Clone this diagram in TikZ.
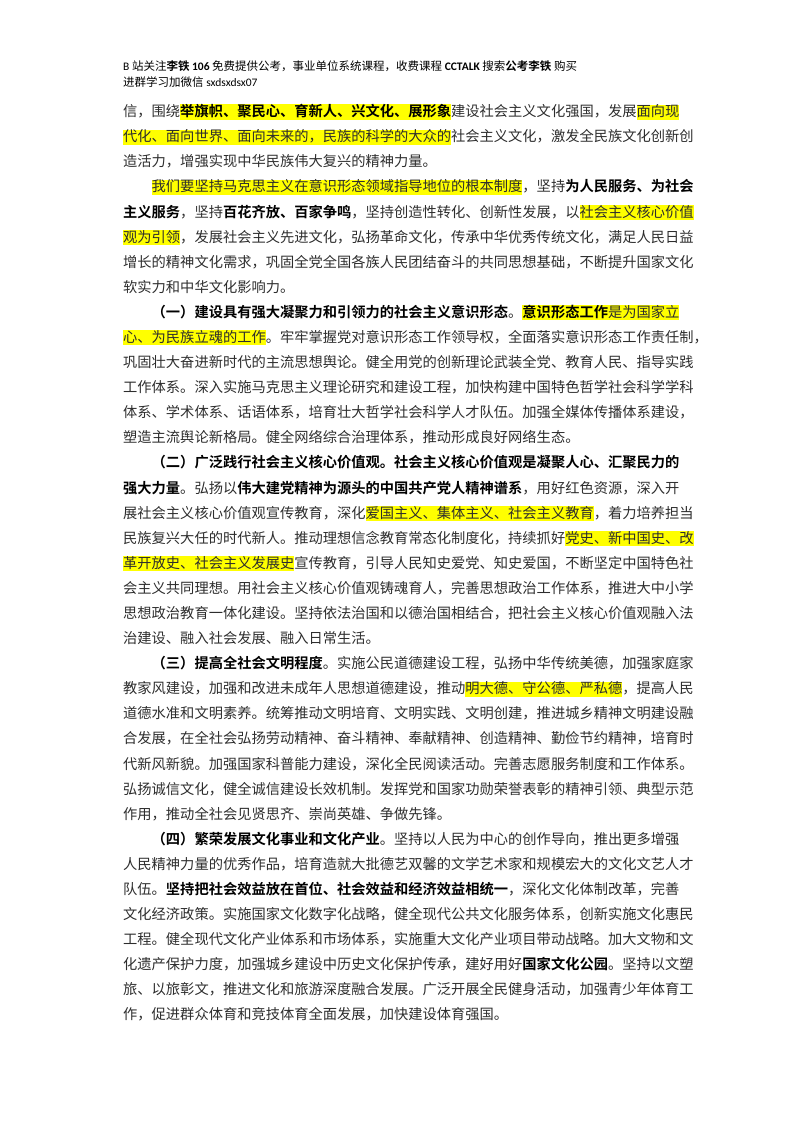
\documentclass[tikz,border=0pt]{standalone}
\usepackage{fontspec}
\setmainfont{Noto Sans CJK SC}[BoldFont={Noto Sans CJK SC Bold}]
\newfontfamily\carl{Carlito}
\definecolor{hly}{RGB}{255,255,0}
\definecolor{txt}{RGB}{45,45,45}
\XeTeXinterchartokenstate=1
\newcommand\ig{\hskip 0pt plus 0.3em minus 0.1em\relax}
\XeTeXinterchartoks 0 1 = {\ig}
\XeTeXinterchartoks 1 0 = {\ig}
\XeTeXinterchartoks 1 1 = {\ig}
\XeTeXinterchartoks 1 2 = {\ig}
\XeTeXinterchartoks 1 3 = {\ig}
\XeTeXinterchartoks 2 1 = {\ig}
\XeTeXinterchartoks 3 1 = {\ig}
\XeTeXinterchartoks 3 2 = {\ig}
\XeTeXinterchartoks 3 3 = {\ig}
\XeTeXinterchartoks 2 2 = {\ig}
\XeTeXinterchartoks 0 3 = {\ig}
\XeTeXinterchartoks 3 0 = {\ig}
\newcommand\HL[1]{{\setlength\fboxsep{0pt}\colorbox{hly}{\rule[-0.2em]{0pt}{1.05em}#1}}}
\newcommand\HB[1]{\HL{\bfseries\color{black}#1}}
\newcommand\B[1]{{\bfseries\color{black}#1}}
\newcommand\IN{\hskip 2em\relax}
\tikzset{ln/.style={anchor=base west,inner sep=0pt,text=txt,font=\fontsize{14.26}{16}\selectfont},
hd/.style={anchor=base west,inner sep=0pt,text=black,font=\fontsize{11.5}{13}\selectfont}}
\newcommand\Ln[2]{\node[ln] (l#1) at (123,{116.7+25.09*#1}) {\hbox to 556pt{#2}};}
\newcommand\Ll[2]{\node[ln] (l#1) at (123,{116.7+25.09*#1}) {#2};}
\begin{document}
\begin{tikzpicture}[x=1pt,y=-1pt]
\useasboundingbox (0,0) rectangle (800,1132);
\node[hd] (h1) at (123,70.5) {{\carl B} 站关注\B{李铁 {\carl 106}} 免费提供公考，事业单位系统课程，收费课程 {\carl\bfseries CCTALK} 搜索\B{公考李铁} 购买};
\node[hd] (h2) at (123,86) {进群学习加微信 {\carl sxdsxdsx07}};
\Ln{0}{信，围绕\HB{举旗帜、聚民心、育新人、兴文化、展形象}建设社会主义文化强国，发展\HL{面向现}}
\Ln{1}{\HL{代化、面向世界、面向未来的，民族的科学的大众的}社会主义文化，激发全民族文化创新创}
\Ll{2}{造活力，增强实现中华民族伟大复兴的精神力量。}
\Ln{3}{\IN\HL{我们要坚持马克思主义在意识形态领域指导地位的根本制度}，坚持\B{为人民服务、为社会}}
\Ln{4}{\B{主义服务}，坚持\B{百花齐放、百家争鸣}，坚持创造性转化、创新性发展，以\HL{社会主义核心价值}}
\Ln{5}{\HL{观为引领}，发展社会主义先进文化，弘扬革命文化，传承中华优秀传统文化，满足人民日益}
\Ln{6}{增长的精神文化需求，巩固全党全国各族人民团结奋斗的共同思想基础，不断提升国家文化}
\Ll{7}{软实力和中华文化影响力。}
\Ln{8}{\IN\B{（一）建设具有强大凝聚力和引领力的社会主义意识形态}。\HB{意识形态工作}\HL{是为国家立}}
\Ln{9}{\HL{心、为民族立魂的工作}。牢牢掌握党对意识形态工作领导权，全面落实意识形态工作责任制，}
\Ln{10}{巩固壮大奋进新时代的主流思想舆论。健全用党的创新理论武装全党、教育人民、指导实践}
\Ln{11}{工作体系。深入实施马克思主义理论研究和建设工程，加快构建中国特色哲学社会科学学科}
\Ln{12}{体系、学术体系、话语体系，培育壮大哲学社会科学人才队伍。加强全媒体传播体系建设，}
\Ll{13}{塑造主流舆论新格局。健全网络综合治理体系，推动形成良好网络生态。}
\Ln{14}{\IN\B{（二）广泛践行社会主义核心价值观。社会主义核心价值观是凝聚人心、汇聚民力的}}
\Ln{15}{\B{强大力量}。弘扬以\B{伟大建党精神为源头的中国共产党人精神谱系}，用好红色资源，深入开}
\Ln{16}{展社会主义核心价值观宣传教育，深化\HL{爱国主义、集体主义、社会主义教育}，着力培养担当}
\Ln{17}{民族复兴大任的时代新人。推动理想信念教育常态化制度化，持续抓好\HL{党史、新中国史、改}}
\Ln{18}{\HL{革开放史、社会主义发展史}宣传教育，引导人民知史爱党、知史爱国，不断坚定中国特色社}
\Ln{19}{会主义共同理想。用社会主义核心价值观铸魂育人，完善思想政治工作体系，推进大中小学}
\Ln{20}{思想政治教育一体化建设。坚持依法治国和以德治国相结合，把社会主义核心价值观融入法}
\Ll{21}{治建设、融入社会发展、融入日常生活。}
\Ln{22}{\IN\B{（三）提高全社会文明程度}。实施公民道德建设工程，弘扬中华传统美德，加强家庭家}
\Ln{23}{教家风建设，加强和改进未成年人思想道德建设，推动\HL{明大德、守公德、严私德}，提高人民}
\Ln{24}{道德水准和文明素养。统筹推动文明培育、文明实践、文明创建，推进城乡精神文明建设融}
\Ln{25}{合发展，在全社会弘扬劳动精神、奋斗精神、奉献精神、创造精神、勤俭节约精神，培育时}
\Ln{26}{代新风新貌。加强国家科普能力建设，深化全民阅读活动。完善志愿服务制度和工作体系。}
\Ln{27}{弘扬诚信文化，健全诚信建设长效机制。发挥党和国家功勋荣誉表彰的精神引领、典型示范}
\Ll{28}{作用，推动全社会见贤思齐、崇尚英雄、争做先锋。}
\Ln{29}{\IN\B{（四）繁荣发展文化事业和文化产业}。坚持以人民为中心的创作导向，推出更多增强}
\Ln{30}{人民精神力量的优秀作品，培育造就大批德艺双馨的文学艺术家和规模宏大的文化文艺人才}
\Ln{31}{队伍。\B{坚持把社会效益放在首位、社会效益和经济效益相统一}，深化文化体制改革，完善}
\Ln{32}{文化经济政策。实施国家文化数字化战略，健全现代公共文化服务体系，创新实施文化惠民}
\Ln{33}{工程。健全现代文化产业体系和市场体系，实施重大文化产业项目带动战略。加大文物和文}
\Ln{34}{化遗产保护力度，加强城乡建设中历史文化保护传承，建好用好\B{国家文化公园}。坚持以文塑}
\Ln{35}{旅、以旅彰文，推进文化和旅游深度融合发展。广泛开展全民健身活动，加强青少年体育工}
\Ll{36}{作，促进群众体育和竞技体育全面发展，加快建设体育强国。}
\end{tikzpicture}
\end{document}
